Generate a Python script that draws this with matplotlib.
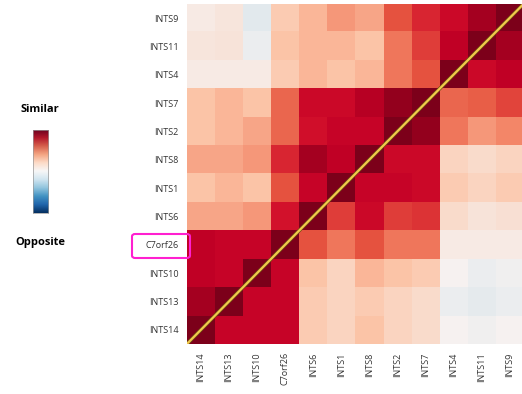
import numpy as np
import matplotlib.pyplot as plt
from matplotlib.patches import FancyBboxPatch
from matplotlib.colors import LinearSegmentedColormap
import matplotlib.patheffects as pe

plt.rcParams['font.family'] = ['Open Sans', 'DejaVu Sans']

# row labels (top to bottom) and column labels (left to right)
rows = ["INTS9", "INTS11", "INTS4", "INTS7", "INTS2", "INTS8",
        "INTS1", "INTS6", "C7orf26", "INTS10", "INTS13", "INTS14"]
cols = rows[::-1]

# similarity values (-1 opposite .. 1 similar)
vals = np.array([
    [0.05, 0.08, -0.10, 0.25, 0.35, 0.45, 0.40, 0.65, 0.75, 0.85, 0.95, 1.00],
    [0.08, 0.10, -0.05, 0.30, 0.35, 0.35, 0.30, 0.55, 0.70, 0.90, 1.00, 0.95],
    [0.05, 0.05, 0.05, 0.25, 0.35, 0.30, 0.35, 0.55, 0.65, 1.00, 0.85, 0.90],
    [0.30, 0.35, 0.30, 0.60, 0.85, 0.85, 0.92, 0.97, 1.00, 0.60, 0.62, 0.68],
    [0.30, 0.35, 0.40, 0.60, 0.82, 0.88, 0.88, 1.00, 0.97, 0.55, 0.45, 0.50],
    [0.40, 0.40, 0.45, 0.75, 0.95, 0.90, 1.00, 0.85, 0.85, 0.20, 0.15, 0.20],
    [0.30, 0.35, 0.30, 0.65, 0.88, 1.00, 0.88, 0.88, 0.85, 0.25, 0.20, 0.25],
    [0.40, 0.40, 0.45, 0.80, 1.00, 0.70, 0.85, 0.70, 0.72, 0.15, 0.10, 0.12],
    [0.90, 0.88, 0.88, 1.00, 0.65, 0.55, 0.65, 0.55, 0.55, 0.05, 0.05, 0.05],
    [0.90, 0.88, 1.00, 0.88, 0.30, 0.20, 0.35, 0.30, 0.25, 0.00, -0.05, -0.03],
    [0.95, 1.00, 0.88, 0.88, 0.25, 0.20, 0.25, 0.20, 0.15, -0.05, -0.08, -0.05],
    [1.00, 0.88, 0.88, 0.88, 0.25, 0.20, 0.30, 0.20, 0.15, 0.00, -0.03, 0.00],
])

# saturated blue-white-red map like the figure
stops = [(-1.0, "#053061"), (-0.5, "#92c5de"), (0.0, "#f6f2f1"),
         (0.3, "#fcc5a8"), (0.5, "#f4896a"), (0.65, "#e65540"),
         (0.8, "#d3122c"), (0.9, "#c40026"), (0.97, "#9a001f"), (1.0, "#7c001a")]
cmap = LinearSegmentedColormap.from_list(
    "sim", [((v + 1) / 2, c) for v, c in stops])

fig = plt.figure(figsize=(5.22, 3.94), dpi=100)
ax = fig.add_axes([0.358, 0.127, 0.645, 0.863])
ax.imshow(vals, cmap=cmap, vmin=-1, vmax=1, aspect="auto",
          extent=(-0.5, 11.5, 11.5, -0.5))
ax.set_xlim(-0.5, 11.5)
ax.set_ylim(11.5, -0.5)

# yellow diagonal from bottom-left to top-right
ax.plot([-0.5, 11.5], [11.5, -0.5], color="#f2c94c", lw=1.6,
        path_effects=[pe.Stroke(linewidth=2.6, foreground="#6b5010"), pe.Normal()])

ax.set_xticks(range(len(cols)))
ax.set_xticklabels(cols, rotation=90, fontsize=6.5, color="#333333")
ax.set_yticks(range(len(rows)))
ax.set_yticklabels(rows, fontsize=6.5, color="#333333")
ax.tick_params(length=0, pad=6)
for s in ax.spines.values():
    s.set_visible(False)

# magenta box round C7orf26
fig.patches.append(FancyBboxPatch((132 / 522, 1 - 258 / 394), 58 / 522, 24 / 394,
                                  boxstyle="round,pad=0,rounding_size=0.006",
                                  transform=fig.transFigure, fill=False,
                                  edgecolor="#ff1fd0", lw=1.5))

# colour key
cax = fig.add_axes([0.063, 0.459, 0.029, 0.211])
grad = np.linspace(1, -1, 200).reshape(-1, 1)
cax.imshow(grad, cmap="RdBu_r", vmin=-1, vmax=1, aspect="auto")
cax.set_xticks([])
cax.set_yticks([])
for s in cax.spines.values():
    s.set_color("#999999")
    s.set_linewidth(0.5)
fig.text(0.077, 1 - 109 / 394, "Similar", ha="center", va="center",
         fontsize=8, fontweight="bold")
fig.text(0.077, 1 - 243 / 394, "Opposite", ha="center", va="center",
         fontsize=8, fontweight="bold")

fig.savefig("out.png", dpi=100)
